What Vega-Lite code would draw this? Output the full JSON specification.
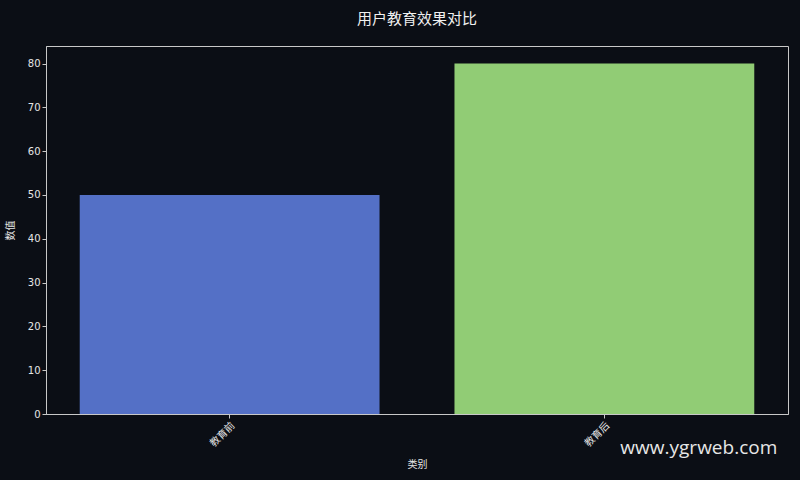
{
  "$schema": "https://vega.github.io/schema/vega-lite/v6.json",
  "autosize": "none",
  "width": 742,
  "height": 368,
  "padding": {"left": 46, "top": 46, "right": 12, "bottom": 66},
  "background": "#0b0e15",
  "title": {
    "text": "用户教育效果对比",
    "font": "Noto Sans CJK SC",
    "fontSize": 15,
    "fontWeight": "normal",
    "color": "#f0f0f0",
    "offset": 19
  },
  "data": {
    "values": [
      {"category": "教育前", "value": 50},
      {"category": "教育后", "value": 80}
    ]
  },
  "layer": [
    {
      "mark": {"type": "bar", "stroke": null},
      "encoding": {
        "x": {
          "field": "category",
          "type": "nominal",
          "sort": null,
          "scale": {"paddingInner": 0.2, "paddingOuter": 0.09},
          "axis": {"title": "类别", "labelAngle": -45, "titlePadding": 11}
        },
        "y": {
          "field": "value",
          "type": "quantitative",
          "scale": {"domain": [0, 84], "nice": false},
          "axis": {"title": "数值", "values": [0, 10, 20, 30, 40, 50, 60, 70, 80], "titlePadding": 12}
        },
        "color": {
          "field": "category",
          "type": "nominal",
          "scale": {"domain": ["教育前", "教育后"], "range": ["#5470c6", "#91cc75"]},
          "legend": null
        }
      }
    },
    {
      "data": {"values": [{"mark": "www.ygrweb.com"}]},
      "mark": {
        "type": "text",
        "align": "left",
        "baseline": "middle",
        "dx": 16,
        "dy": 34,
        "font": "Open Sans",
        "fontSize": 19,
        "color": "#e6e6e6",
        "clip": false
      },
      "encoding": {
        "x": {"datum": "教育后"},
        "y": {"datum": 0},
        "text": {"field": "mark"}
      }
    }
  ],
  "config": {
    "view": {"stroke": "#c8c8c8", "strokeWidth": 1},
    "axis": {
      "grid": false,
      "domainColor": "#c8c8c8",
      "tickColor": "#c8c8c8",
      "tickSize": 4,
      "labelColor": "#e6e6e6",
      "titleColor": "#e6e6e6",
      "labelFont": "DejaVu Sans",
      "titleFont": "Noto Sans CJK SC",
      "labelFontSize": 10,
      "titleFontSize": 10,
      "titleFontWeight": "normal"
    },
    "axisX": {"labelFont": "Noto Sans CJK SC"}
  }
}
